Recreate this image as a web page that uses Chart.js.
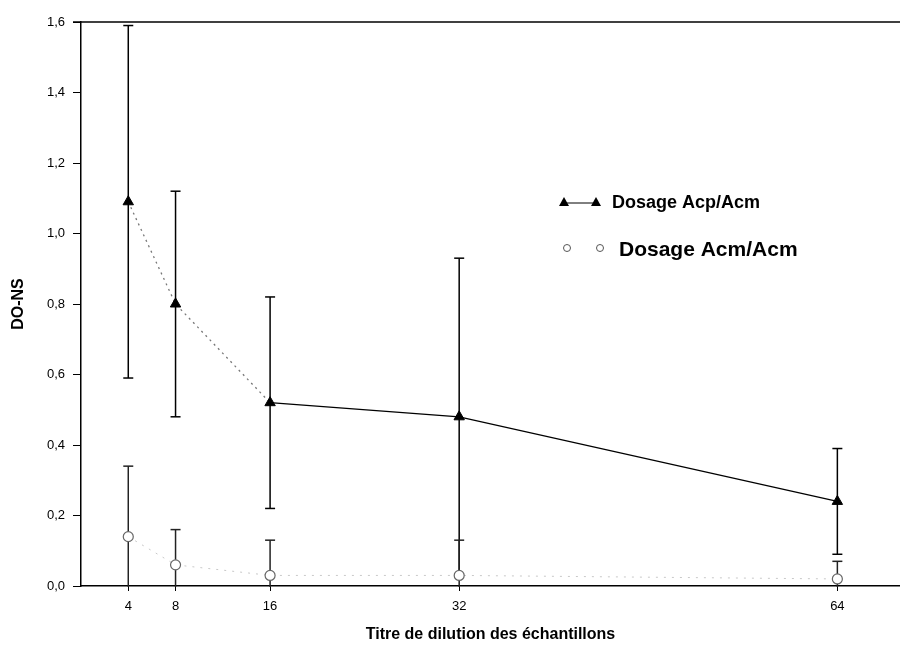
<!DOCTYPE html>
<html>
<head>
<meta charset="utf-8">
<script src="https://cdn.jsdelivr.net/npm/chart.js@4/dist/chart.umd.min.js"></script>
<style>
  html, body { margin: 0; padding: 0; background: #fff; }
  #wrap { width: 900px; height: 651px; position: relative; }
</style>
</head>
<body>
<div id="wrap"><canvas id="c" width="900" height="651"></canvas></div>
<script>
// Dilution titres of the samples
const dilutions = [4, 8, 16, 32, 64];

// Mean DO-NS and error (±) for each assay
const acpAcm = [1.09, 0.80, 0.52, 0.48, 0.24];
const acpAcmErr = [0.50, 0.32, 0.30, 0.45, 0.15];

const acmAcm = [0.14, 0.06, 0.03, 0.03, 0.02];
const acmAcmErr = [0.20, 0.10, 0.10, 0.10, 0.05];

const yTicks = [0, 0.2, 0.4, 0.6, 0.8, 1.0, 1.2, 1.4, 1.6];

const labelAcp = 'Dosage Acp/Acm';
const labelAcm = 'Dosage Acm/Acm';
const xTitle = 'Titre de dilution des échantillons';
const yTitle = 'DO-NS';

const FONT = 'Arial, "Liberation Sans", Helvetica, sans-serif';

const toPoints = (ys) => dilutions.map((x, i) => ({ x, y: ys[i] }));

// Vertical error bars with caps, drawn under the markers
const errorBars = {
  id: 'errorBars',
  beforeDatasetsDraw(chart) {
    const { ctx, chartArea, scales } = chart;
    ctx.save();
    ctx.beginPath();
    ctx.rect(chartArea.left, chartArea.top - 1, chartArea.right - chartArea.left, chartArea.bottom - chartArea.top + 2);
    ctx.clip();
    chart.data.datasets.forEach((ds) => {
      if (!ds.errors) return;
      ctx.strokeStyle = ds.errorColor || '#000';
      ctx.lineWidth = 1.5;
      ds.data.forEach((p, i) => {
        const e = ds.errors[i];
        const x = scales.x.getPixelForValue(p.x);
        const yHi = scales.y.getPixelForValue(p.y + e);
        const yLo = scales.y.getPixelForValue(p.y - e);
        ctx.beginPath();
        ctx.moveTo(x, yHi);
        ctx.lineTo(x, yLo);
        ctx.stroke();
        const cap = 5;
        [yHi, yLo].forEach((yy) => {
          if (yy >= chartArea.top - 1 && yy <= chartArea.bottom) {
            ctx.beginPath();
            ctx.moveTo(x - cap, yy);
            ctx.lineTo(x + cap, yy);
            ctx.stroke();
          }
        });
      });
    });
    ctx.restore();
  }
};

// Top frame line and the in-plot legend
const frameAndLegend = {
  id: 'frameAndLegend',
  afterDraw(chart) {
    const { ctx, chartArea } = chart;
    ctx.save();
    ctx.strokeStyle = '#000';
    ctx.lineWidth = 1.5;
    ctx.beginPath();
    ctx.moveTo(chartArea.left - 8, chartArea.top);
    ctx.lineTo(chartArea.right, chartArea.top);
    ctx.stroke();

    // legend row 1: filled triangles joined by a line
    const tri = (cx, cy, r) => {
      ctx.beginPath();
      ctx.moveTo(cx, cy - r);
      ctx.lineTo(cx + r, cy + r * 0.8);
      ctx.lineTo(cx - r, cy + r * 0.8);
      ctx.closePath();
      ctx.fill();
    };
    ctx.fillStyle = '#000';
    ctx.lineWidth = 1;
    ctx.beginPath();
    ctx.moveTo(564, 203);
    ctx.lineTo(596, 203);
    ctx.stroke();
    tri(564, 202, 5);
    tri(596, 202, 5);
    ctx.font = 'bold 18px ' + FONT;
    ctx.textBaseline = 'middle';
    ctx.textAlign = 'left';
    ctx.fillText(chart.data.datasets[0].label, 612, 203);

    // legend row 2: open circles
    ctx.strokeStyle = '#555';
    ctx.lineWidth = 1;
    [567, 600].forEach((cx) => {
      ctx.beginPath();
      ctx.arc(cx, 248, 3.5, 0, Math.PI * 2);
      ctx.stroke();
    });
    ctx.fillStyle = '#000';
    ctx.font = 'bold 21px ' + FONT;
    ctx.fillText(chart.data.datasets[1].label, 619, 250);
    ctx.restore();
  }
};

new Chart(document.getElementById('c'), {
  type: 'scatter',
  data: {
    datasets: [
      {
        label: labelAcp,
        data: toPoints(acpAcm),
        errors: acpAcmErr,
        showLine: true,
        borderColor: '#000',
        borderWidth: 1.3,
        segment: {
          borderColor: (c) => (c.p0.parsed.x < 16 ? '#777' : '#000'),
          borderDash: (c) => (c.p0.parsed.x < 16 ? [2, 4] : undefined)
        },
        pointStyle: 'triangle',
        pointRadius: 6,
        pointBackgroundColor: '#000',
        pointBorderColor: '#000',
        pointBorderWidth: 1
      },
      {
        label: labelAcm,
        data: toPoints(acmAcm),
        errors: acmAcmErr,
        errorColor: '#222',
        showLine: true,
        borderColor: '#c8c8c8',
        borderWidth: 1,
        borderDash: [2, 6],
        pointStyle: 'circle',
        pointRadius: 5,
        pointBackgroundColor: '#fff',
        pointBorderColor: '#666',
        pointBorderWidth: 1.2
      }
    ]
  },
  options: {
    responsive: false,
    animation: false,
    events: [],
    layout: { autoPadding: false, padding: { top: 22, right: 0, left: 0, bottom: 0 } },
    plugins: { legend: { display: false }, tooltip: { enabled: false } },
    scales: {
      x: {
        type: 'linear',
        min: 0,
        max: 69.3,
        afterBuildTicks: (s) => { s.ticks = dilutions.map((v) => ({ value: v })); },
        afterFit: (s) => { s.height = 65; },
        border: { display: true, color: '#000', width: 1.5 },
        grid: { display: true, drawOnChartArea: false, drawTicks: true, tickLength: 5, color: '#000', lineWidth: 1 },
        ticks: { color: '#000', font: { family: FONT, size: 13 }, padding: 8, maxRotation: 0, autoSkip: false },
        title: { display: true, text: xTitle, color: '#000', font: { family: FONT, size: 16, weight: 'bold' }, padding: { top: 0, bottom: 7 } }
      },
      y: {
        type: 'linear',
        min: 0,
        max: 1.6,
        afterBuildTicks: (s) => { s.ticks = yTicks.map((v) => ({ value: v })); },
        afterFit: (s) => { s.width = 81; },
        border: { display: true, color: '#000', width: 1.5 },
        grid: { display: true, drawOnChartArea: false, drawTicks: true, tickLength: 8, color: '#000', lineWidth: 1 },
        ticks: {
          color: '#000',
          font: { family: FONT, size: 13 },
          padding: 8,
          callback: (v) => v.toFixed(1).replace('.', ',')
        },
        title: { display: true, text: yTitle, color: '#000', font: { family: FONT, size: 16, weight: 'bold' }, padding: { top: 9, bottom: 0 } }
      }
    }
  },
  plugins: [errorBars, frameAndLegend]
});
</script>
</body>
</html>
